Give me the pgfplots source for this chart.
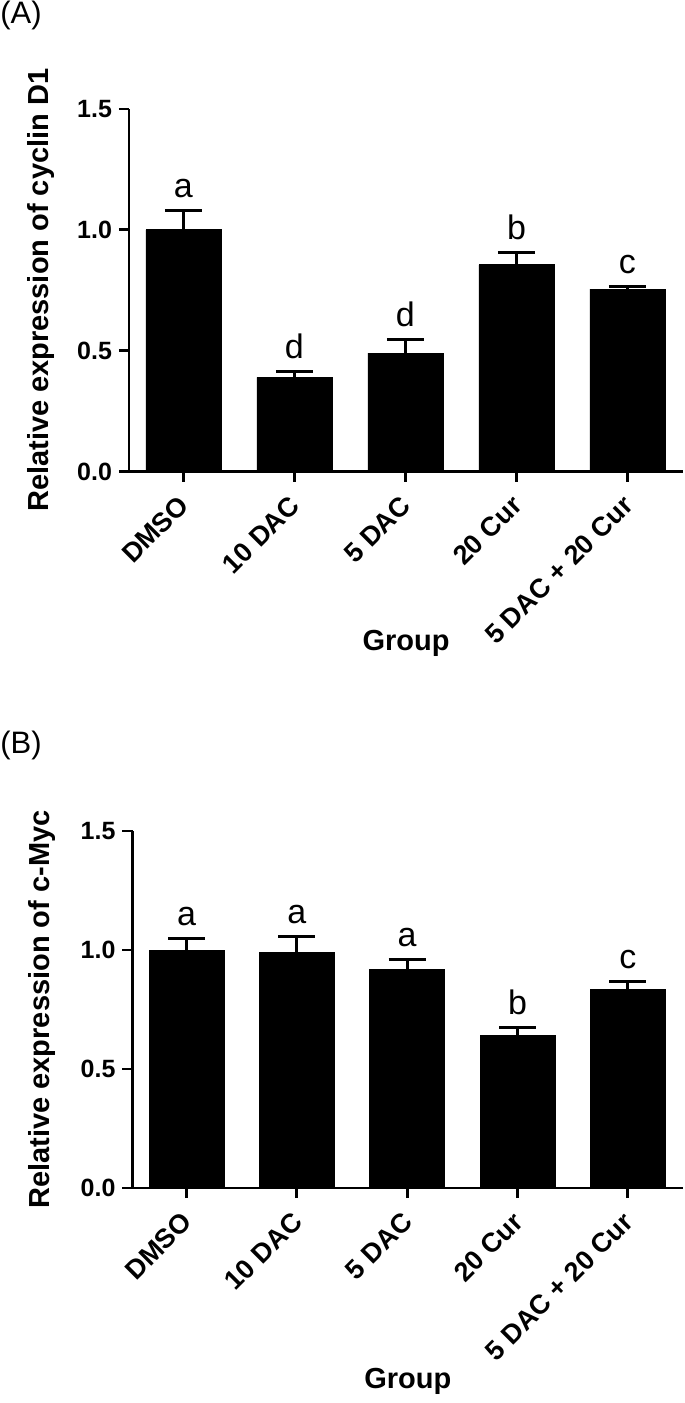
\documentclass[border=0pt]{standalone}
\usepackage{pgfplots}
\pgfplotsset{compat=1.18}
\usepackage{fontspec}
\setmainfont{Liberation Sans}

% sizes: 1 px of the reference = 0.5pt
\pgfplotsset{
  panel/.style={
    scale only axis,
    axis x line=bottom, axis y line=left,
    axis line style={-, line width=1.4pt},
    tick style={line width=1.4pt, black},
    tick align=outside, major tick length=5pt,
    ymin=0, ymax=1.5, ytick={0,0.5,1,1.5},
    xmin=-0.49, xmax=4.5,
    xtick={0,1,2,3,4},
    xticklabels={DMSO, 10 DAC, 5 DAC, 20 Cur, 5 DAC + 20 Cur},
    yticklabel style={font=\bfseries\fontsize{12.5}{14}\selectfont,
      /pgf/number format/.cd, fixed, fixed zerofill, precision=1, assume math mode=true},
    xticklabel style={font=\bfseries\fontsize{13.5}{15}\selectfont,
      rotate=45, anchor=east, inner sep=0pt, xshift=-6.5pt, yshift=-7pt},
    label style={font=\bfseries\fontsize{14.5}{17}\selectfont},
    xlabel={Group},
  },
  bars/.style={ybar, bar width=37.5pt, fill=black, draw=black,
    error bars/.cd, y dir=plus, y explicit,
    error bar style={line width=1.5pt, black},
    error mark options={rotate=90, line width=1.5pt, mark size=9.25pt, black}},
  letters/.style={draw=none, mark=none, nodes near coords, point meta=explicit symbolic,
    nodes near coords style={font=\fontsize{17}{20}\selectfont, anchor=base, inner sep=0pt, yshift=6.5pt}},
}

\begin{document}
\begin{tikzpicture}
\useasboundingbox (0,0) rectangle (342.5pt,-701.5pt);

\node[anchor=north west, inner sep=0pt, font=\fontsize{15.5}{18}\selectfont] at (0pt,-0.5pt) {(A)};
\begin{axis}[panel,
  at={(64.5pt,-235.75pt)}, anchor=south west,
  width=277pt, height=181.25pt,
  ylabel={Relative expression of cyclin D1},
  ylabel style={at={(axis description cs:-0.159,0.5)}, anchor=center},
  xlabel style={at={(axis description cs:0.5,-0.475)}, anchor=center},
]
\addplot[bars] coordinates {
  (0,1.00) +- (0,0.080)
  (1,0.39) +- (0,0.025)
  (2,0.49) +- (0,0.055)
  (3,0.855) +- (0,0.050)
  (4,0.755) +- (0,0.010)
};
\addplot[letters] coordinates {
  (0,1.08)[a] (1,0.415)[d] (2,0.545)[d] (3,0.905)[b] (4,0.765)[c]
};
\end{axis}

\node[anchor=north west, inner sep=0pt, font=\fontsize{15.5}{18}\selectfont] at (0pt,-365.5pt) {(B)};
\begin{axis}[panel,
  at={(66.25pt,-594pt)}, anchor=south west,
  width=275.25pt, height=178.5pt,
  ylabel={Relative expression of c-Myc},
  ylabel style={at={(axis description cs:-0.165,0.5)}, anchor=center},
  xlabel style={at={(axis description cs:0.5,-0.542)}, anchor=center},
]
\addplot[bars] coordinates {
  (0,1.00) +- (0,0.050)
  (1,0.99) +- (0,0.065)
  (2,0.92) +- (0,0.040)
  (3,0.64) +- (0,0.035)
  (4,0.835) +- (0,0.033)
};
\addplot[letters] coordinates {
  (0,1.05)[a] (1,1.055)[a] (2,0.96)[a] (3,0.675)[b] (4,0.868)[c]
};
\end{axis}
\end{tikzpicture}
\end{document}
